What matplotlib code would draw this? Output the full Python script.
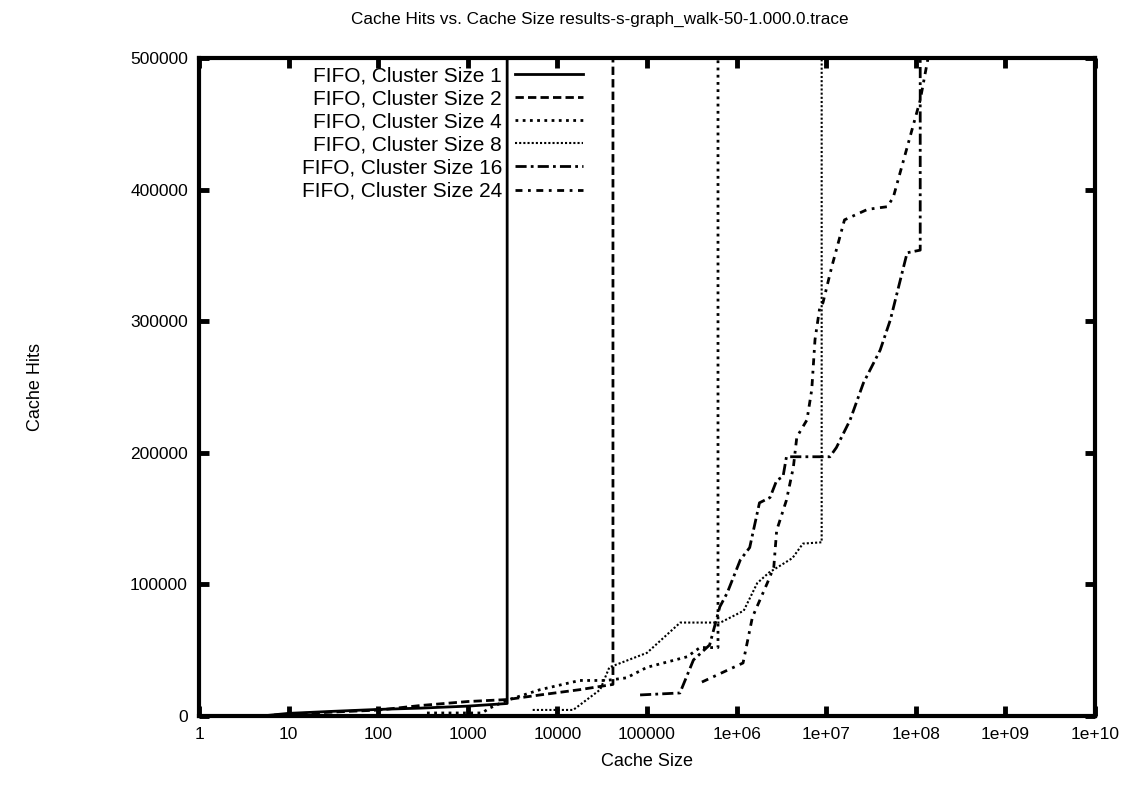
import matplotlib
matplotlib.use("Agg")
import matplotlib.pyplot as plt
from matplotlib.ticker import FixedLocator, FixedFormatter, NullLocator

plt.rcParams['font.family'] = ['Liberation Sans', 'DejaVu Sans']

# ---- data ----
title = "Cache Hits vs. Cache Size results-s-graph_walk-50-1.000.0.trace"
labels = ["FIFO, Cluster Size 1", "FIFO, Cluster Size 2", "FIFO, Cluster Size 4",
          "FIFO, Cluster Size 8", "FIFO, Cluster Size 16", "FIFO, Cluster Size 24"]

x_c1 = [5, 10, 30, 100, 300, 1000, 2750, 2750]
y_c1 = [0, 2000, 3500, 5000, 6000, 7500, 9500, 500000]

x_c2 = [5, 10, 100, 300, 1000, 2750, 6400, 17700, 41700, 41700]
y_c2 = [0, 1500, 4500, 8000, 11000, 12500, 16000, 20000, 24000, 500000]

x_c4 = [350, 1440, 1750, 2750, 6400, 17700, 35000, 59000, 100000, 280000, 390000, 620000, 620000]
y_c4 = [2300, 2300, 6000, 12000, 20000, 27000, 27000, 29000, 37000, 45000, 52000, 52000, 500000]

x_c8 = [5300, 15000, 30000, 38000, 100000, 235000, 660000, 1.2e6, 1.7e6, 2.3e6, 4.2e6, 5.5e6, 8.9e6, 8.9e6]
y_c8 = [4600, 4600, 20000, 37000, 48000, 71000, 71000, 80000, 101000, 109000, 120000, 131000, 132000, 500000]

x_c16 = [83700, 233000, 330000, 500000, 650000, 785000, 1.1e6, 1.4e6, 1.8e6, 2.36e6, 2.8e6, 3.3e6, 3.6e6,
         1.1e7, 1.3e7, 1.85e7, 2.6e7, 4e7, 5.2e7, 8e7, 1.12e8, 1.12e8]
y_c16 = [16000, 17500, 42600, 54000, 83000, 93500, 118600, 128000, 162000, 166000, 179000, 182000, 197000,
         197000, 204000, 225000, 253000, 278000, 301000, 352000, 354000, 500000]

x_c24 = [410000, 1.18e6, 1.5e6, 2.2e6, 2.6e6, 2.8e6, 3.6e6, 4.3e6, 4.7e6, 6.1e6, 6.9e6, 7.5e6, 8.5e6,
         9.2e6, 1.15e7, 1.6e7, 2.9e7, 4.8e7, 5.6e7, 1.12e8, 1.37e8]
y_c24 = [25800, 40300, 75000, 101000, 113000, 141000, 164000, 189000, 212000, 225000, 248000, 286000, 311000,
         314000, 341000, 377000, 385000, 387000, 394000, 468000, 500000]

x_ticks = [1, 10, 100, 1000, 1e4, 1e5, 1e6, 1e7, 1e8, 1e9, 1e10]
x_tick_labels = ["1", "10", "100", "1000", "10000", "100000", "1e+06", "1e+07", "1e+08", "1e+09", "1e+10"]
y_ticks = [0, 100000, 200000, 300000, 400000, 500000]
y_tick_labels = ["0", "100000", "200000", "300000", "400000", "500000"]

# ---- figure ----
fig = plt.figure(figsize=(11.37, 7.86), dpi=100)
ax = fig.add_axes([199 / 1137, 70 / 786, (1095 - 199) / 1137, (716 - 58) / 786])

lw = 2.0
ax.plot(x_c1, y_c1, color='black', lw=lw, linestyle='-', label=labels[0])
ax.plot(x_c2, y_c2, color='black', lw=lw, linestyle=(0, (3, 1.5)), label=labels[1])
ax.plot(x_c4, y_c4, color='black', lw=lw, linestyle=(0, (1, 1.6)), label=labels[2])
ax.plot(x_c8, y_c8, color='black', lw=1.5, linestyle=(0, (1, 1)), label=labels[3])
ax.plot(x_c16, y_c16, color='black', lw=lw, linestyle=(0, (4, 1.5, 1, 1.5)), label=labels[4])
ax.plot(x_c24, y_c24, color='black', lw=lw, linestyle=(0, (2.5, 2, 1, 2)), label=labels[5])

ax.set_xscale('log')
ax.set_xlim(1, 1e10)
ax.set_ylim(0, 500000)
ax.xaxis.set_major_locator(FixedLocator(x_ticks))
ax.xaxis.set_major_formatter(FixedFormatter(x_tick_labels))
ax.xaxis.set_minor_locator(NullLocator())
ax.yaxis.set_major_locator(FixedLocator(y_ticks))
ax.yaxis.set_major_formatter(FixedFormatter(y_tick_labels))

for s in ax.spines.values():
    s.set_linewidth(3)
    s.set_color('black')
ax.tick_params(which='major', direction='in', length=7, width=3.5, top=True, right=True,
               labelsize=12.5, pad=8, colors='black')

ax.set_xlabel("Cache Size", fontsize=13, labelpad=8)
fig.text(35 / 1137, 1 - 387 / 786, "Cache Hits", rotation=90, fontsize=13, ha='center', va='center')
fig.text(600 / 1137, 1 - 19 / 786, title, fontsize=12.3, ha='center', va='center')

leg = ax.legend(loc='upper right', bbox_to_anchor=((583 - 199) / 896, (716 - 66) / 658),
                frameon=False, markerfirst=False,
                fontsize=15, handlelength=3.27, handletextpad=0.62, labelspacing=0.2,
                borderpad=0, borderaxespad=0)

fig.savefig("out.png", dpi=100)
